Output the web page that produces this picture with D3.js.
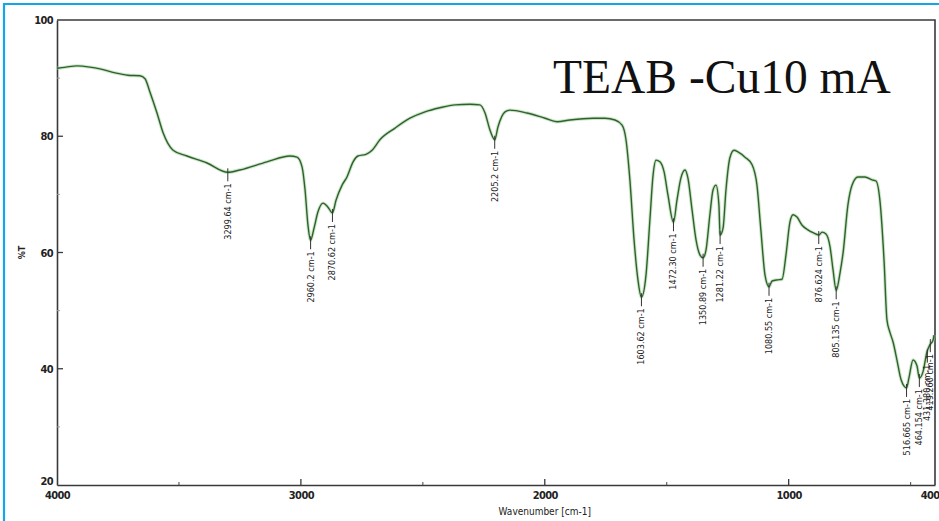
<!DOCTYPE html>
<html>
<head>
<meta charset="utf-8">
<script src="https://cdn.jsdelivr.net/npm/d3@7/dist/d3.min.js"></script>
<style>
  html, body { margin: 0; padding: 0; background: #fff; }
  svg { display: block; }
  .tick-label { font-family: "Liberation Sans Narrow", "DejaVu Sans Condensed", "Liberation Sans", sans-serif; font-weight: bold; fill: #222; }
  .peak-label { font-family: "Liberation Sans Narrow", "DejaVu Sans Condensed", "Liberation Sans", sans-serif; fill: #222; }
</style>
</head>
<body>
<svg id="chart" width="939" height="521"></svg>
<script>
// FTIR transmittance spectrum, TEAB -Cu10 mA
const wavenumbers = [
  4000, 3963, 3918, 3865, 3824, 3762, 3709, 3660, 3639, 3619,
  3590, 3565, 3524, 3467, 3385, 3299.64, 3250, 3139, 3045, 3016,
  2995, 2983, 2971, 2960.2, 2946, 2930, 2909, 2889, 2870.62, 2856,
  2831, 2811, 2786, 2766, 2733, 2708, 2676, 2614, 2553, 2491,
  2430, 2368, 2307, 2266, 2245, 2225, 2205.2, 2192, 2163, 2143,
  2073, 1999, 1950, 1897, 1802, 1753, 1712, 1683, 1667, 1651,
  1634, 1618, 1603.62, 1585, 1569, 1556, 1544, 1528, 1511, 1495,
  1472.30, 1458, 1442, 1425, 1413, 1396, 1380, 1364, 1350.89, 1339,
  1323, 1310, 1298, 1286, 1281.22, 1269, 1257, 1241, 1224, 1208,
  1179, 1150, 1130, 1114, 1097, 1080.55, 1068, 1044, 1027, 1011,
  995, 982, 966, 945, 921, 900, 876.624, 863, 847, 830,
  818, 805.135, 789, 777, 757, 740, 716, 687, 658, 642,
  626, 609, 597, 585, 572, 556, 539, 516.665, 507, 490,
  474, 464.154, 449, 433, 421, 408, 404
];
const transmittance = [
  91.7, 91.9, 92.1, 91.9, 91.6, 90.9, 90.5, 90.4, 89.9, 87.6,
  84.0, 80.6, 77.6, 76.6, 75.4, 73.8, 74.2, 75.6, 76.6, 76.4,
  74.7, 70.8, 64.7, 62.1, 64.2, 67.0, 68.5, 67.8, 66.8, 69.0,
  71.6, 73.0, 75.6, 76.6, 76.9, 77.6, 79.4, 81.4, 83.1, 84.2,
  84.9, 85.4, 85.5, 85.4, 84.0, 81.1, 79.4, 81.6, 84.2, 84.5,
  84.0, 83.1, 82.5, 82.8, 83.1, 83.1, 82.8, 81.9, 79.4, 72.5,
  62.2, 55.3, 52.3, 56.1, 65.6, 73.3, 75.9, 75.6, 73.9, 69.9,
  65.2, 69.0, 72.8, 74.2, 72.8, 67.3, 62.2, 59.6, 59.1, 60.4,
  66.5, 70.8, 71.6, 68.2, 63.0, 64.2, 70.8, 76.3, 77.6, 77.3,
  76.4, 75.1, 71.6, 63.9, 56.1, 54.1, 55.1, 55.3, 55.4, 59.6,
  65.2, 66.5, 66.1, 64.7, 63.9, 63.4, 63.0, 63.5, 63.2, 60.9,
  57.0, 53.5, 56.6, 59.9, 68.2, 71.6, 73.0, 73.0, 72.5, 72.3,
  69.0, 58.7, 48.4, 46.3, 44.6, 41.5, 38.1, 36.7, 38.4, 41.5,
  40.5, 38.4, 39.5, 42.9, 44.1, 44.9, 45.8
];

// Labelled absorption bands
const peakWavenumbers = [3299.64, 2960.2, 2870.62, 2205.2, 1603.62, 1472.30, 1350.89, 1281.22, 1080.55, 876.624, 805.135, 516.665, 464.154, 431.380, 419.260];
const peakTexts = ["3299.64 cm-1", "2960.2 cm-1", "2870.62 cm-1", "2205.2 cm-1", "1603.62 cm-1", "1472.30 cm-1", "1350.89 cm-1", "1281.22 cm-1", "1080.55 cm-1", "876.624 cm-1", "805.135 cm-1", "516.665 cm-1", "464.154 cm-1", "431.380 cm-1", "419.260 cm-1"];
const peakTransmittance = [73.8, 62.1, 66.8, 79.4, 52.3, 65.2, 59.1, 63.0, 54.1, 63.0, 53.5, 36.7, 38.4, 42.6, 44.4];

const xTickValues = [4000, 3000, 2000, 1000, 400];
const xTickLabels = ["4000", "3000", "2000", "1000", "400"];
const xMinorTicks = [3500, 2500, 1500, 500];
const yTickValues = [100, 80, 60, 40, 20];
const yTickLabels = ["100", "80", "60", "40", "20"];
const yMinorTicks = [90, 70, 50, 30];

const titleText = "TEAB -Cu10 mA";
const xTitle = "Wavenumber [cm-1]";
const yTitle = "%T";

const svg = d3.select("#chart");
const plot = { left: 57, right: 935, top: 20, bottom: 485 };

const x = d3.scaleLinear().domain([4000, 400]).range([plot.left, plot.right]);
const y = d3.scaleLinear().domain([20, 100]).range([plot.bottom, plot.top]);

// outer slide border (left and top edges visible)
svg.append("line").attr("x1", 4).attr("x2", 4).attr("y1", 3).attr("y2", 521)
  .attr("stroke", "#12a7e6").attr("stroke-width", 2.2);
svg.append("line").attr("x1", 3).attr("x2", 939).attr("y1", 4).attr("y2", 4)
  .attr("stroke", "#12a7e6").attr("stroke-width", 2.2);

// plot frame
const frame = svg.append("g").attr("stroke", "#3a3a3a").attr("stroke-width", 1.6).attr("fill", "none");
frame.append("path").attr("d", `M${plot.left},${plot.top}H${plot.right}V${plot.bottom}`);

// bottom axis
const xAxis = d3.axisBottom(x).tickValues(xTickValues).tickSize(0).tickFormat((d, i) => xTickLabels[i]).tickPadding(6);
const gx = svg.append("g").attr("transform", `translate(0,${plot.bottom})`).call(xAxis);
gx.select(".domain").attr("stroke", "#3a3a3a").attr("stroke-width", 1.6);
gx.selectAll("text").attr("class", "tick-label").style("font-size", "11px").attr("letter-spacing", "-0.6");
// the last label sits flush against the right edge
gx.selectAll(".tick").filter(d => d === 400).select("text")
  .attr("text-anchor", "end").attr("x", 939 - x(400));
// inward tick marks
svg.append("g").selectAll("line").data(xTickValues.filter(v => v !== 4000 && v !== 400)).join("line")
  .attr("x1", d => x(d)).attr("x2", d => x(d)).attr("y1", plot.bottom).attr("y2", plot.bottom - 6)
  .attr("stroke", "#3a3a3a").attr("stroke-width", 1.3);
svg.append("g").selectAll("line").data(xMinorTicks).join("line")
  .attr("x1", d => x(d)).attr("x2", d => x(d)).attr("y1", plot.bottom).attr("y2", plot.bottom - 3)
  .attr("stroke", "#555").attr("stroke-width", 1.1);

// left axis
const yAxis = d3.axisLeft(y).tickValues(yTickValues).tickSize(0).tickFormat((d, i) => yTickLabels[i]).tickPadding(4);
const gy = svg.append("g").attr("transform", `translate(${plot.left},0)`).call(yAxis);
gy.select(".domain").attr("stroke", "#3a3a3a").attr("stroke-width", 1.6);
gy.selectAll("text").attr("class", "tick-label").style("font-size", "11px").attr("letter-spacing", "-0.6");
gy.selectAll(".tick").filter(d => d === 20).select("text").attr("dy", "-0.05em");
svg.append("g").selectAll("line").data(yTickValues.filter(v => v !== 20 && v !== 100)).join("line")
  .attr("x1", plot.left).attr("x2", plot.left + 6).attr("y1", d => y(d)).attr("y2", d => y(d))
  .attr("stroke", "#3a3a3a").attr("stroke-width", 1.3);
svg.append("g").selectAll("line").data(yMinorTicks).join("line")
  .attr("x1", plot.left).attr("x2", plot.left + 3).attr("y1", d => y(d)).attr("y2", d => y(d))
  .attr("stroke", "#999").attr("stroke-width", 1);

// axis titles
svg.append("text").attr("class", "tick-label").attr("x", x(2000)).attr("y", 515)
  .attr("text-anchor", "middle").style("font-size", "10px").style("font-weight", "normal").text(xTitle);
svg.append("text").attr("class", "tick-label")
  .attr("transform", `translate(25,${y(60)}) rotate(-90)`)
  .attr("text-anchor", "middle").style("font-size", "9px").text(yTitle);

// spectrum
const spectrum = wavenumbers.map((w, i) => [w, transmittance[i]]);
const line = d3.line().x(d => x(d[0])).y(d => y(d[1])).curve(d3.curveMonotoneX);
svg.append("path").datum(spectrum).attr("d", line).attr("fill", "none")
  .attr("stroke", "#9fd49a").attr("stroke-width", 3.4).attr("stroke-opacity", 0.55)
  .attr("stroke-linejoin", "round");
svg.append("path").datum(spectrum).attr("d", line).attr("fill", "none")
  .attr("stroke", "#325f2e").attr("stroke-width", 1.4).attr("stroke-linejoin", "round");

// peak markers and labels
const peaks = peakWavenumbers.map((w, i) => ({ w, t: peakTransmittance[i], label: peakTexts[i] }));
const pg = svg.append("g");
pg.selectAll("line").data(peaks).join("line")
  .attr("x1", d => x(d.w)).attr("x2", d => x(d.w))
  .attr("y1", d => y(d.t) - 4).attr("y2", d => y(d.t) + 9)
  .attr("stroke", "#333").attr("stroke-width", 1);
pg.selectAll("text").data(peaks).join("text")
  .attr("class", "peak-label")
  .attr("transform", d => `translate(${x(d.w) + 3},${y(d.t) + 11}) rotate(-90)`)
  .attr("text-anchor", "end")
  .style("font-size", "9px")
  .text(d => d.label);

// sample title
svg.append("text").attr("x", 553).attr("y", 93)
  .style("font-family", "'Liberation Serif', 'Times New Roman', serif")
  .style("font-size", "47.5px").attr("fill", "#111").text(titleText);
</script>
</body>
</html>
